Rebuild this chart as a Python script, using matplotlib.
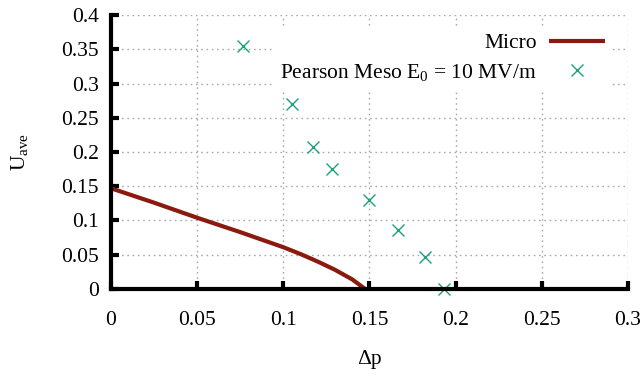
import numpy as np
import matplotlib
matplotlib.use('Agg')
import matplotlib.pyplot as plt

plt.rcParams['font.family'] = ['Liberation Serif', 'DejaVu Serif']
plt.rcParams['mathtext.fontset'] = 'custom'
plt.rcParams['mathtext.rm'] = 'Liberation Serif'
plt.rcParams['mathtext.it'] = 'Liberation Serif:italic'

# Micro model curve
micro_dp = [0.0, 0.025, 0.05, 0.075, 0.1, 0.11, 0.12, 0.13, 0.14, 0.1475]
micro_u = [0.147, 0.126, 0.104, 0.083, 0.061, 0.051, 0.040, 0.028, 0.014, 0.0]

# Pearson mesoscale points
meso_dp = [0.0766, 0.105, 0.117, 0.128, 0.150, 0.1666, 0.182, 0.193]
meso_u = [0.355, 0.270, 0.207, 0.175, 0.130, 0.086, 0.047, 0.0]

xticks = [0, 0.05, 0.1, 0.15, 0.2, 0.25, 0.3]
yticks = [0, 0.05, 0.1, 0.15, 0.2, 0.25, 0.3, 0.35, 0.4]

fs = 15.5

fig = plt.figure(figsize=(6.44, 3.79), dpi=100)
ax = fig.add_axes([0.1724, 0.2375, 0.975 - 0.1724, 0.9604 - 0.2375])

ax.plot(micro_dp, micro_u, color='#8b1a0e', linewidth=3, label='Micro',
        solid_capstyle='butt')
ax.plot(meso_dp, meso_u, linestyle='none', marker='x', markersize=9,
        markeredgewidth=1.0, color='#1aa37a',
        label='Pearson Meso E$_0$ = 10 MV/m', clip_on=False)

ax.set_xlim(0, 0.3)
ax.set_ylim(0, 0.4)
ax.set_xticks(xticks)
ax.set_yticks(yticks)
ax.set_xticklabels([f'{v:g}' for v in xticks])
ax.set_yticklabels([f'{v:g}' for v in yticks])

ax.grid(True, color='#aaaaaa', linewidth=1.0, linestyle=(0, (1.2, 2.6)))
ax.set_axisbelow(True)
for side in ['top', 'right']:
    ax.spines[side].set_visible(False)
for side in ['left', 'bottom']:
    ax.spines[side].set_linewidth(3)
ax.tick_params(direction='in', length=6, width=3, labelsize=fs)
ax.tick_params(axis='x', pad=16)
ax.tick_params(axis='y', pad=9)

ax.set_xlabel('Δp', fontsize=fs, labelpad=14)
ax.set_ylabel('U$_{\\rm ave}$', fontsize=fs, labelpad=22)

leg = ax.legend(loc='upper right', bbox_to_anchor=(0.968, 0.958),
                markerfirst=False, fontsize=fs, frameon=True,
                framealpha=1, edgecolor='none', facecolor='white',
                fancybox=False, handlelength=2.6, handletextpad=0.56,
                labelspacing=0.41, borderpad=0.3, borderaxespad=0)
for col in leg._legend_handle_box.get_children():
    col.align = 'right'

fig.savefig('out.png', dpi=100)
